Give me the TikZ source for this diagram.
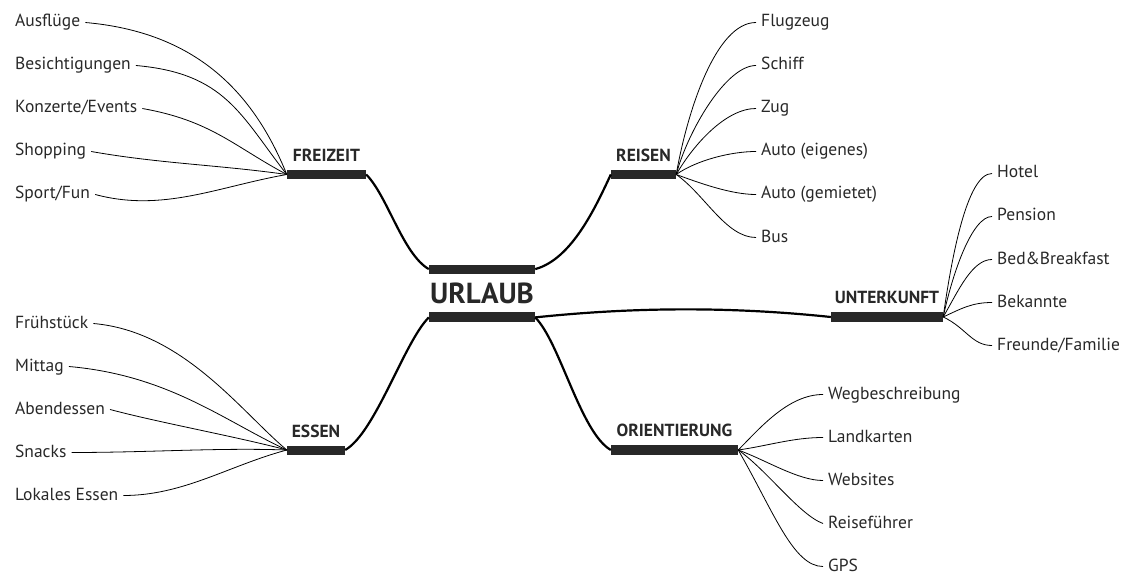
\documentclass[tikz,border=0pt]{standalone}
\usepackage{fontspec}
\setmainfont{PT Sans}
\usetikzlibrary{positioning}
\definecolor{ink}{RGB}{40,40,40}

\begin{document}
\begin{tikzpicture}[x=1pt,y=1pt,
    bar/.style={fill=ink, inner sep=0pt, minimum height=9pt},
    head/.style={font=\fontsize{17.5}{20}\bfseries\selectfont, text=ink, inner sep=0pt, text depth=0pt},
    leaf/.style={font=\fontsize{17.5}{20}\selectfont, text=ink, inner xsep=5pt, inner ysep=0pt, text height=12pt, text depth=3pt},
    twig/.style={line width=0.8pt},
    branch/.style={line width=2.2pt}]
    \useasboundingbox (0,0) rectangle (1132,574);

    % Centre
    \node[font=\fontsize{29}{32}\bfseries\selectfont, text=ink, inner sep=0pt, text height=20pt, text depth=0pt] (urlaub) at (482,281) {URLAUB};
    \node[bar, minimum width=106pt, above=9pt of urlaub] (ut) {};
    \node[bar, minimum width=106pt, minimum height=10pt, below=9pt of urlaub] (ub) {};

    % Main topics
    \node[bar, minimum width=79pt] (fz) at (326.5,399.5) {};
    \node[head, above=8pt of fz] {FREIZEIT};
    \node[bar, minimum width=65pt] (rs) at (643.5,399.5) {};
    \node[head, above=8pt of rs] {REISEN};
    \node[bar, minimum width=112pt, minimum height=10pt] (uk) at (887,257) {};
    \node[head, above=8pt of uk] {UNTERKUNFT};
    \node[bar, minimum width=58pt] (es) at (316,124) {};
    \node[head, above=8pt of es] {ESSEN};
    \node[bar, minimum width=127pt, minimum height=10pt] (ori) at (674.5,124) {};
    \node[head, above=8pt of ori] {ORIENTIERUNG};

    % Branches
    \draw[branch] (fz.east) to[out=-45, in=150, out distance=30pt, in distance=30pt] (ut.west);
    \draw[branch] (ut.east) to[out=15, in=-115, out distance=38pt, in distance=35pt] (rs.west);
    \draw[branch] (ub.east) to[out=6, in=174, out distance=100pt, in distance=100pt] (uk.west);
    \draw[branch] (ub.west) to[out=225, in=30, out distance=35pt, in distance=35pt] (es.east);
    \draw[branch] (ub.east) to[out=-45, in=150, out distance=35pt, in distance=35pt] (ori.west);

    % Freizeit
    \foreach \t/\yy/\o/\i/\a/\b [count=\k] in {Ausflüge/551.5/112/-5/90/110, Besichtigungen/508.5/128/-5/75/90,
        {Konzerte/Events}/465.5/152/-10/60/70, Shopping/422.5/172/-10/70/70, {Sport/Fun}/379.5/190/-15/70/70} {
        \node[leaf, anchor=west] (fz\k) at (10,\yy) {\t};
        \draw[twig] (fz.west) to[out=\o, in=\i, out distance=\a pt, in distance=\b pt] (fz\k.east);
    }

    % Reisen
    \foreach \t/\yy/\o/\i/\a/\b [count=\k] in {Flugzeug/551.5/80/180/65/40, Schiff/508.5/75/180/45/30,
        Zug/465.5/60/180/35/30, Auto (eigenes)/422.5/35/180/25/25, Auto (gemietet)/379.5/-20/180/25/25,
        Bus/336.5/-35/180/35/30} {
        \node[leaf, anchor=west] (rs\k) at (756,\yy) {\t};
        \draw[twig] (rs.east) to[out=\o, in=\i, out distance=\a pt, in distance=\b pt] (rs\k.west);
    }

    % Unterkunft
    \foreach \t/\yy/\o/\i/\a/\b [count=\k] in {Hotel/400.5/82/180/60/25, Pension/357.5/78/180/45/20,
        Bed\&Breakfast/314.5/60/180/30/20, Bekannte/271.5/25/180/20/20, {Freunde/Familie}/228.5/-25/180/25/20} {
        \node[leaf, anchor=west] (uk\k) at (992,\yy) {\t};
        \draw[twig] (uk.east) to[out=\o, in=\i, out distance=\a pt, in distance=\b pt] (uk\k.west);
    }

    % Essen
    \foreach \t/\yy/\o/\i/\a/\b [count=\k] in {Frühstück/250.5/140/-5/60/90, Mittag/207.5/155/-5/70/100,
        Abendessen/164.5/165/-15/50/50, Snacks/121.5/178/0/70/80, Lokales Essen/78.5/195/0/60/60} {
        \node[leaf, anchor=west] (es\k) at (10,\yy) {\t};
        \draw[twig] (es.west) to[out=\o, in=\i, out distance=\a pt, in distance=\b pt] (es\k.east);
    }

    % Orientierung
    \foreach \t/\yy/\o/\i/\a/\b [count=\k] in {Wegbeschreibung/179.5/45/180/30/35, Landkarten/136.5/8/180/30/30,
        Websites/93.5/-20/180/30/25, Reiseführer/50.5/-35/160/35/25, GPS/7.5/-60/180/70/30} {
        \node[leaf, anchor=west] (ori\k) at (823,\yy) {\t};
        \draw[twig] (ori.east) to[out=\o, in=\i, out distance=\a pt, in distance=\b pt] (ori\k.west);
    }
\end{tikzpicture}
\end{document}
